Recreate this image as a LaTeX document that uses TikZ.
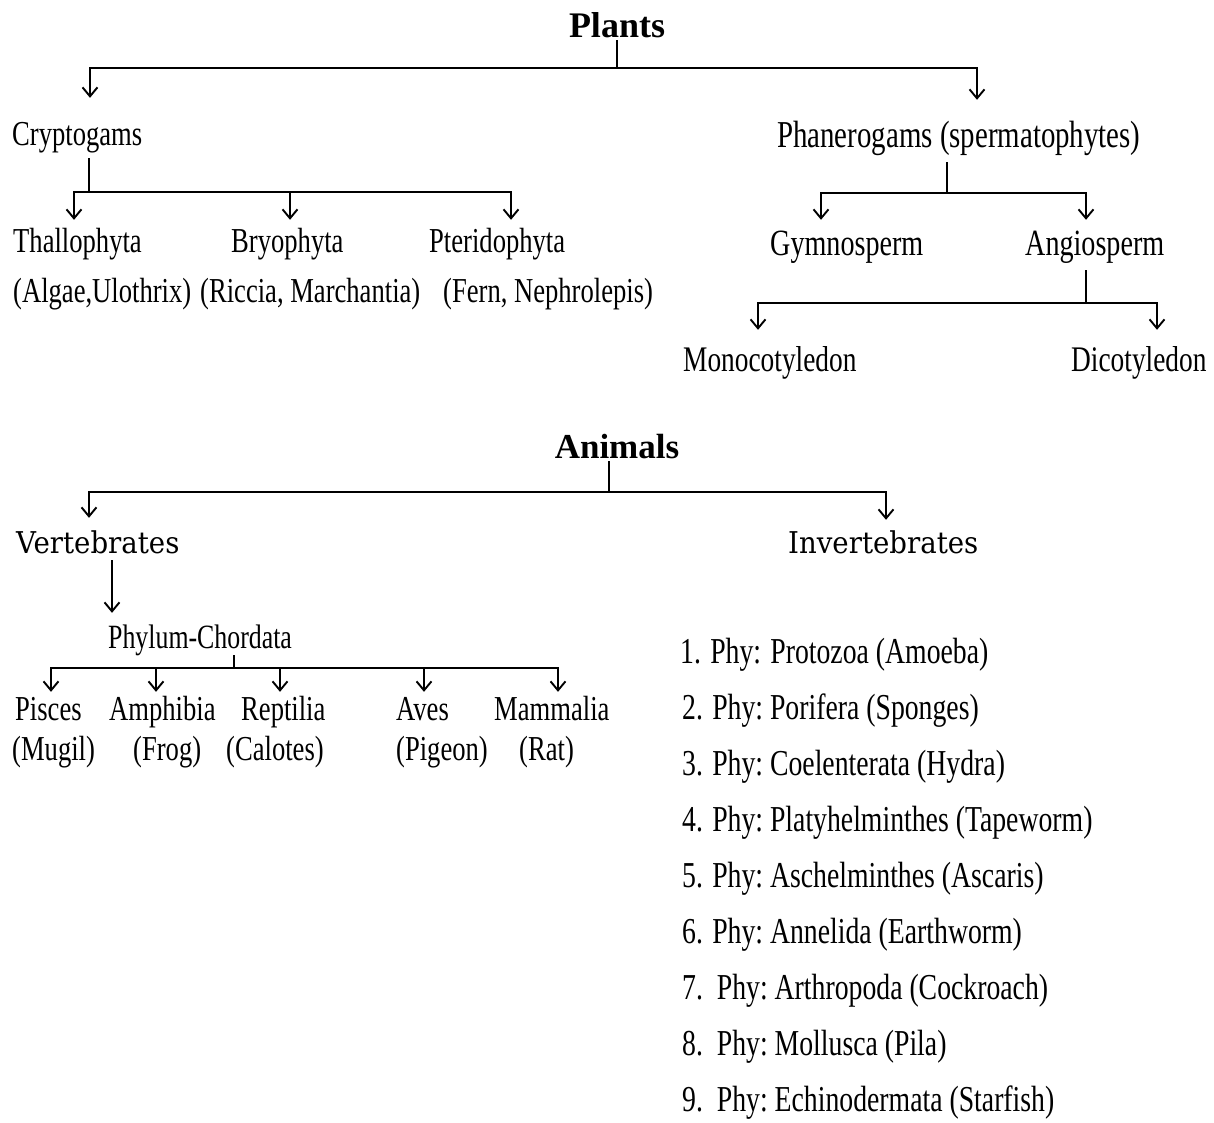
\documentclass[tikz,border=0pt]{standalone}
\usepackage{fontspec}
\setmainfont{Liberation Serif}[FakeStretch=0.76]
\newfontfamily\headfont{Liberation Serif}
\newfontfamily\groupfont{DejaVu Serif}[FakeStretch=0.92]
\usetikzlibrary{arrows.meta}

\tikzset{
  lbl/.style={inner sep=0pt, anchor=base west, text height=22pt, text depth=7pt, font=\fontsize{35}{35}\selectfont},
  head/.style={inner sep=0pt, anchor=base, text depth=3pt, font=\headfont\bfseries\fontsize{36}{36}\selectfont},
  grp/.style={lbl, font=\groupfont\fontsize{30}{30}\selectfont},
  phy/.style={lbl, font=\fontsize{36.5}{36.5}\selectfont},
  link/.style={line width=1.9pt},
  arr/.style={link, -{Straight Barb[length=9pt,width=15pt]}},
}

\begin{document}
\begin{tikzpicture}[x=1pt,y=-1pt]
  \useasboundingbox (0,0) rectangle (1214,1122);

  % plant kingdom
  \node[head] (plants) at (617,37) {Plants};
  \node[lbl] (crypt) at (12,145) {Cryptogams};
  \node[lbl,font=\fontsize{38}{38}\selectfont] (phan) at (777,147) {Phanerogams (spermatophytes)};

  \node[lbl] (thal) at (13,252) {Thallophyta};
  \node[lbl] (bryo) at (231,252) {Bryophyta};
  \node[lbl] (pter) at (429,252) {Pteridophyta};
  \node[lbl] (algae) at (13,302) {(Algae,Ulothrix)};
  \node[lbl] (riccia) at (200,302) {(Riccia, Marchantia)};
  \node[lbl] (fern) at (443,302) {(Fern, Nephrolepis)};

  \node[lbl,font=\fontsize{37}{37}\selectfont] (gymno) at (770,255) {Gymnosperm};
  \node[lbl,font=\fontsize{37}{37}\selectfont] (angio) at (1025,255) {Angiosperm};
  \node[lbl,font=\fontsize{36}{36}\selectfont] (mono) at (683,371) {Monocotyledon};
  \node[lbl,font=\fontsize{36}{36}\selectfont] (dico) at (1071,371) {Dicotyledon};

  \coordinate (pfork) at (617,68);
  \draw[link] (plants.south) -- (pfork);
  \draw[arr] (pfork) -| ([xshift=78,yshift=25]crypt.north west);
  \draw[arr] (pfork) -| ([xshift=200,yshift=25]phan.north west);

  \coordinate (cfork) at (89,192);
  \draw[link,shorten <=6pt] (crypt.south west -| cfork) -- (cfork);
  \draw[arr] (cfork) -| ([xshift=61,yshift=10]thal.north west);
  \draw[arr] (cfork) -| ([xshift=59,yshift=10]bryo.north west);
  \draw[arr] (cfork) -| ([xshift=82,yshift=10]pter.north west);

  \coordinate (phfork) at (947,193);
  \draw[link,shorten <=8pt] (phan.south west -| phfork) -- (phfork);
  \draw[arr] (phfork) -| ([xshift=51,yshift=13]gymno.north west);
  \draw[arr] (phfork) -| ([xshift=61,yshift=13]angio.north west);

  \coordinate (afork) at (1086,303);
  \draw[link,shorten <=8pt] (angio.south west -| afork) -- (afork);
  \draw[arr] (afork) -| ([xshift=75,yshift=19]mono.north west);
  \draw[arr] (afork) -| ([xshift=86,yshift=19]dico.north west);

  % animal kingdom
  \node[head,font=\headfont\bfseries\fontsize{35}{35}\selectfont] (animals) at (617,458) {Animals};
  \node[grp] (vert) at (16,553) {Vertebrates};
  \node[grp] (invert) at (788,553) {Invertebrates};
  \node[lbl,font=\fontsize{34}{34}\selectfont] (phylum) at (108,648) {Phylum-Chordata};

  \node[lbl] (pisces) at (15,720) {Pisces};
  \node[lbl] (amph) at (109,720) {Amphibia};
  \node[lbl] (rept) at (241,720) {Reptilia};
  \node[lbl] (aves) at (396,720) {Aves};
  \node[lbl] (mamm) at (494,720) {Mammalia};
  \node[lbl] (mugil) at (12,760) {(Mugil)};
  \node[lbl] (frog) at (133,760) {(Frog)};
  \node[lbl] (calotes) at (226,760) {(Calotes)};
  \node[lbl] (pigeon) at (396,760) {(Pigeon)};
  \node[lbl] (rat) at (519,760) {(Rat)};

  \coordinate (anfork) at (609,492);
  \draw[link] (animals.south -| anfork) -- (anfork);
  \draw[arr] (anfork) -| ([xshift=73,yshift=13]vert.north west);
  \draw[arr] (anfork) -| ([xshift=98,yshift=11]invert.north west);

  \draw[arr] ([xshift=96]vert.south west) -- ([xshift=4,yshift=13]phylum.north west);

  \coordinate (chfork) at (234,668);
  \draw[link] (phylum.south west -| chfork) -- (chfork);
  \draw[arr] (chfork) -| ([xshift=36,yshift=6]pisces.north west);
  \draw[arr] (chfork) -| ([xshift=47,yshift=6]amph.north west);
  \draw[arr] (chfork) -| ([xshift=39,yshift=6]rept.north west);
  \draw[arr] (chfork) -| ([xshift=28,yshift=6]aves.north west);
  \draw[arr] (chfork) -| ([xshift=64,yshift=6]mamm.north west);

  % invertebrate phyla
  \node[phy] (prot) at (680,663) {1. Phy: Protozoa (Amoeba)};
  \node[phy] (pori) at (682,719) {2. Phy:\ Porifera (Sponges)};
  \node[phy] (coel) at (682,775) {3. Phy:\ Coelenterata (Hydra)};
  \node[phy] (plat) at (682,831) {4. Phy:\ Platyhelminthes (Tapeworm)};
  \node[phy] (asch) at (682,887) {5. Phy:\ Aschelminthes (Ascaris)};
  \node[phy] (anne) at (682,943) {6. Phy:\ Annelida (Earthworm)};
  \node[phy] (arth) at (682,999) {7.\ \ Phy:\ Arthropoda (Cockroach)};
  \node[phy] (moll) at (682,1055) {8.\ \ Phy:\ Mollusca (Pila)};
  \node[phy] (echi) at (682,1111) {9.\ \ Phy:\ Echinodermata (Starfish)};
\end{tikzpicture}
\end{document}
